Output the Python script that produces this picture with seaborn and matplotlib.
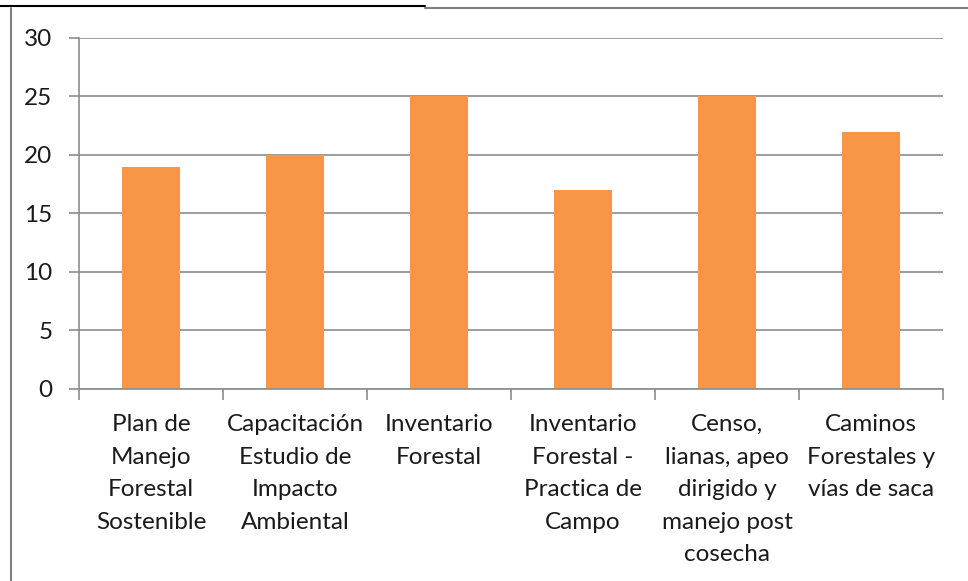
import matplotlib
matplotlib.use("Agg")
import matplotlib.pyplot as plt
import seaborn as sns
import pandas as pd
from matplotlib.lines import Line2D

categories = [
    "Plan de\nManejo\nForestal\nSostenible",
    "Capacitación\nEstudio de\nImpacto\nAmbiental",
    "Inventario\nForestal",
    "Inventario\nForestal -\nPractica de\nCampo",
    "Censo,\nlianas, apeo\ndirigido y\nmanejo post\ncosecha",
    "Caminos\nForestales y\nvías de saca",
]
values = [19, 20, 25, 17, 25, 22]
yticks = [0, 5, 10, 15, 20, 25, 30]

sns.set_theme(style="white")
plt.rcParams['font.family'] = ['Lato', 'DejaVu Sans']

df = pd.DataFrame({"cat": categories, "val": values})

fig = plt.figure(figsize=(9.68, 5.81), dpi=100)
ax = fig.add_axes([0.0816, 0.3305, 0.8926, 0.6041])
sns.barplot(data=df, x="cat", y="val", color="#F79646", width=0.4,
            saturation=1, linewidth=0, ax=ax)

ax.set_ylim(0, 30)
ax.set_xlim(-0.5, len(categories) - 0.5)
ax.set_yticks(yticks)
ax.set_yticklabels([str(t) for t in yticks], fontsize=17.5, color="#1a1a1a")
ax.yaxis.grid(True, color="#8c8c8c", linewidth=1.2)
ax.set_axisbelow(True)
ax.set_xlabel("")
ax.set_ylabel("")

# category labels
ax.set_xticks(range(len(categories)))
ax.set_xticklabels(categories, fontsize=17.5, color="#1a1a1a", linespacing=1.68,
                   va="top")
ax.tick_params(axis="x", length=0, pad=18)
ax.tick_params(axis="y", length=7, width=1.2, color="#8c8c8c", left=True, pad=12)

# boundary ticks below x axis
ax.set_xticks([i - 0.5 for i in range(len(categories) + 1)], minor=True)
ax.tick_params(axis="x", which="minor", length=8, width=1.2, color="#8c8c8c",
               bottom=True, direction="out")

for s in ["top", "right"]:
    ax.spines[s].set_visible(False)
for s in ["left", "bottom"]:
    ax.spines[s].set_color("#8c8c8c")
    ax.spines[s].set_linewidth(1.2)

# outer frame lines
fig.add_artist(Line2D([0, 425 / 968], [1 - 6 / 581, 1 - 6 / 581], color="black",
                      linewidth=1.5, transform=fig.transFigure))
fig.add_artist(Line2D([425 / 968, 1], [1 - 8 / 581, 1 - 8 / 581], color="#808080",
                      linewidth=1.5, transform=fig.transFigure))
fig.add_artist(Line2D([11 / 968, 11 / 968], [0, 1 - 8 / 581], color="#808080",
                      linewidth=1.5, transform=fig.transFigure))

fig.savefig("out.png", dpi=100)
